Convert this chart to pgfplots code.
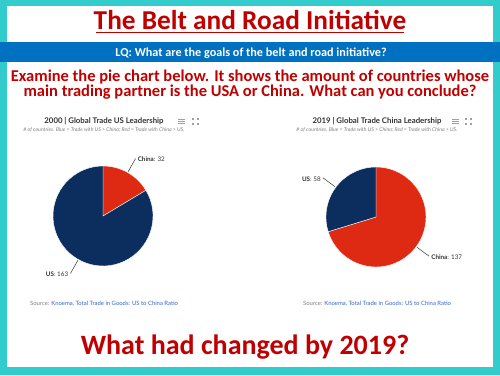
\documentclass[border=0pt]{standalone}
\usepackage{pgfplots}
\pgfplotsset{compat=1.18}
\usepackage{fontspec}
\setmainfont{Carlito}
\newfontfamily\lato{Lato}
\definecolor{teal}{RGB}{51,204,204}
\definecolor{barblue}{RGB}{0,112,192}
\definecolor{slred}{RGB}{192,0,0}
\definecolor{cnred}{RGB}{222,42,18}
\definecolor{usnavy}{RGB}{12,46,94}
\definecolor{srcblue}{RGB}{51,102,204}
\definecolor{txtgray}{RGB}{51,51,51}
\definecolor{icongray}{RGB}{160,160,160}
% data: number of countries
\def\LChina{32}\def\LUS{163}
\def\RChina{137}\def\RUS{58}
\begin{document}
\begin{tikzpicture}[x=1pt,y=1pt]
\fill[teal] (0,0) rectangle (500,375);
\fill[white] (7,8) rectangle (493,369);
\fill[barblue] (0,313) rectangle (500,333);
% title
\node[anchor=base,text=slred,font=\fontsize{27.3}{29}\selectfont\bfseries,inner sep=0] at (250,345.5) {The Belt and Road Initiative};
\draw[slred,line width=1.4pt] (96,342.3) -- (404,342.3);
\node[anchor=base,text=white,font=\fontsize{12.2}{14}\selectfont\bfseries,inner sep=0] at (251,318.3) {LQ: What are the goals of the belt and road initiative?};
\node[anchor=base,text=slred,font=\fontsize{16.5}{18}\selectfont\bfseries,inner sep=0] at (250,293.3) {Examine the pie chart below. It shows the amount of countries whose};
\node[anchor=base,text=slred,font=\fontsize{16.5}{18}\selectfont\bfseries,inner sep=0] at (250,278) {main trading partner is the USA or China. What can you conclude?};
\node[anchor=base,text=slred,font=\fontsize{28}{30}\selectfont\bfseries,inner sep=0] at (245,21) {What had changed by 2019?};
% chart headers
\node[anchor=base,text=txtgray,font=\lato\fontsize{7.8}{9}\selectfont\bfseries,inner sep=0] at (104,251.5) {2000 | Global Trade US Leadership};
\node[anchor=base,text=gray,font=\lato\fontsize{5.2}{6}\selectfont\itshape,inner sep=0] at (104,243.5) {\# of countries. Blue = Trade with US > China; Red = Trade with China > US.};
\node[anchor=base,text=txtgray,font=\lato\fontsize{7.8}{9}\selectfont\bfseries,inner sep=0] at (377,251.5) {2019 | Global Trade China Leadership};
\node[anchor=base,text=gray,font=\lato\fontsize{5.2}{6}\selectfont\itshape,inner sep=0] at (377,243.5) {\# of countries. Blue = Trade with US > China; Red = Trade with China > US.};
% icons
\foreach \xx in {178,452}{
  \foreach \yy in {252,254,256}{\draw[icongray,line width=0.6pt] (\xx,\yy) -- (\xx+7,\yy);}
}
\foreach \xx in {193,466}{
  \foreach \dx/\dy in {0/0,5/0,0/5,5/5}{\fill[icongray] (\xx+\dx-0.8,251+\dy-0.8) rectangle (\xx+\dx+0.8,251+\dy+0.8);}
}
% sources
\node[anchor=base west,font=\lato\fontsize{5.9}{7}\selectfont,inner sep=0] at (30,70) {\textcolor{gray}{Source:} \textcolor{srcblue}{Knoema, Total Trade in Goods: US to China Ratio}};
\node[anchor=base west,font=\lato\fontsize{5.9}{7}\selectfont,inner sep=0] at (303,70) {\textcolor{gray}{Source:} \textcolor{srcblue}{Knoema, Total Trade in Goods: US to China Ratio}};
% left pie (2000)
\pgfmathsetmacro\LA{90-360/(\LChina+\LUS)*\LChina}
\pgfmathsetmacro\LmC{(90+\LA)/2}
\pgfmathsetmacro\LmU{(\LA-270)/2}
\begin{axis}[at={(103pt,159pt)},anchor=center,x=1pt,y=1pt,xmin=-75,xmax=75,ymin=-75,ymax=75,hide axis,clip=false]
\fill[cnred,draw=white,line width=0.4pt] (axis cs:0,0) -- (axis cs:0,50) arc[start angle=90,end angle=\LA,radius=50pt] -- cycle;
\fill[usnavy,draw=white,line width=0.4pt] (axis cs:0,0) -- (axis cs:{50*cos(\LA)},{50*sin(\LA)}) arc[start angle=\LA,end angle=-270,radius=50pt] -- cycle;
\draw[txtgray,line width=0.5pt] (axis cs:{51*cos(\LmC)},{51*sin(\LmC)}) -- (axis cs:{66*cos(\LmC)},{66*sin(\LmC)}) node[anchor=west,inner sep=2pt,yshift=-1pt,font=\lato\fontsize{6.3}{7}\selectfont,text=txtgray]{\textbf{China}: 32};
\draw[txtgray,line width=0.5pt] (axis cs:{51*cos(\LmU)},{51*sin(\LmU)}) -- (axis cs:{66*cos(\LmU)},{66*sin(\LmU)}) node[anchor=east,inner sep=2pt,yshift=-1pt,font=\lato\fontsize{6.3}{7}\selectfont,text=txtgray]{\textbf{US}: 163};
\end{axis}
% right pie (2019)
\pgfmathsetmacro\RA{90-360/(\RChina+\RUS)*\RChina}
\pgfmathsetmacro\RmC{(90+\RA)/2}
\pgfmathsetmacro\RmU{(\RA-270)/2}
\begin{axis}[at={(376pt,158pt)},anchor=center,x=1pt,y=1pt,xmin=-75,xmax=75,ymin=-75,ymax=75,hide axis,clip=false]
\fill[cnred,draw=white,line width=0.4pt] (axis cs:0,0) -- (axis cs:0,50) arc[start angle=90,end angle=\RA,radius=50pt] -- cycle;
\fill[usnavy,draw=white,line width=0.4pt] (axis cs:0,0) -- (axis cs:{50*cos(\RA)},{50*sin(\RA)}) arc[start angle=\RA,end angle=-270,radius=50pt] -- cycle;
\draw[txtgray,line width=0.5pt] (axis cs:{51*cos(\RmC)},{51*sin(\RmC)}) -- (axis cs:{66*cos(\RmC)},{66*sin(\RmC)}) node[anchor=west,inner sep=2pt,yshift=-1pt,font=\lato\fontsize{6.3}{7}\selectfont,text=txtgray]{\textbf{China}: 137};
\draw[txtgray,line width=0.5pt] (axis cs:{51*cos(\RmU)},{51*sin(\RmU)}) -- (axis cs:{66*cos(\RmU)},{66*sin(\RmU)}) node[anchor=east,inner sep=2pt,yshift=-1pt,font=\lato\fontsize{6.3}{7}\selectfont,text=txtgray]{\textbf{US}: 58};
\end{axis}
\pgfresetboundingbox
\useasboundingbox (0,0) rectangle (500,375);
\end{tikzpicture}
\end{document}
